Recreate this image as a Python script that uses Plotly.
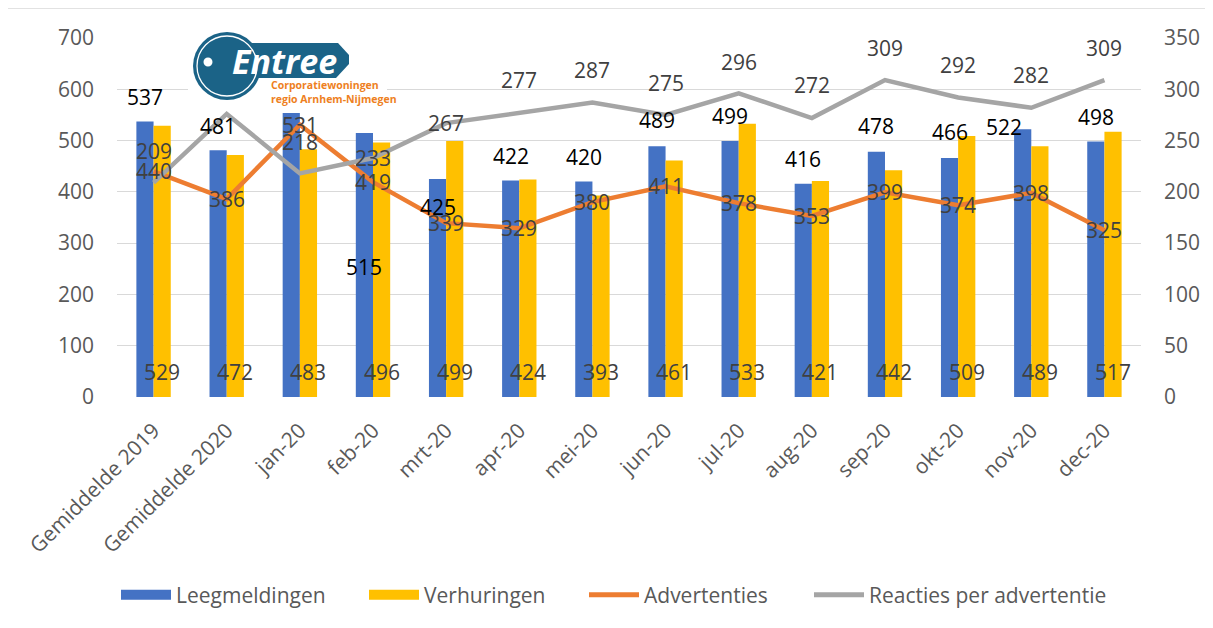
import plotly.graph_objects as go

# ---------------- data ----------------
categories = ["Gemiddelde 2019", "Gemiddelde 2020", "jan-20", "feb-20", "mrt-20", "apr-20",
              "mei-20", "jun-20", "jul-20", "aug-20", "sep-20", "okt-20", "nov-20", "dec-20"]
leegmeldingen = [537, 481, 554, 515, 425, 422, 420, 489, 499, 416, 478, 466, 522, 498]
verhuringen = [529, 472, 483, 496, 499, 424, 393, 461, 533, 421, 442, 509, 489, 517]
advertenties = [440, 386, 531, 419, 339, 329, 380, 411, 378, 353, 399, 374, 398, 325]
reacties = [209, 276, 218, 233, 267, 277, 287, 275, 296, 272, 309, 292, 282, 309]

left_ticks = [0, 100, 200, 300, 400, 500, 600, 700]
right_ticks = [0, 50, 100, 150, 200, 250, 300, 350]

# labels hidden behind the logo in the original
leeg_hidden = {2}
reac_hidden = {1}

# label offsets (pixels) as placed in the original chart
leeg_dy = [25, 24, 25, -134, -28, 25, 25, 26, 25, 25, 26, 26, 2, 25]
leeg_dx = [0, 0, 0, 0, 0, 0, 0, 0, 0, 0, 0, 0, -19, 0]
reac_dy = [32, 32, 31, 0, 0, 33, 33, 32, 31, 33, 32, 32, 33, 32]
verh_dy = 25

# ---------------- layout geometry ----------------
OFF = 8  # page body margin
W, H = 1205, 620
ML, MT = 109, 30
PW, PH = 1024, 359
MR, MB = W - ML - PW, H - MT - PH
BARGAP = 0.53
cat_px = PW / len(categories)
half_bar = cat_px * (1 - BARGAP) / 4.0

FONT = "Open Sans"
BLUE, YELLOW, ORANGE, GRAY = "#4472C4", "#FFC000", "#ED7D31", "#A5A5A5"


def px(x):
    """screen x (reference pixels) -> paper"""
    return (x - OFF - ML) / PW


def py(y):
    """screen y (reference pixels) -> paper"""
    return (MT + PH - (y - OFF)) / PH


fig = go.Figure()
fig.add_trace(go.Bar(x=categories, y=leegmeldingen, name="Leegmeldingen",
                     marker=dict(color=BLUE, line=dict(width=0)), showlegend=False))
fig.add_trace(go.Bar(x=categories, y=verhuringen, name="Verhuringen",
                     marker=dict(color=YELLOW, line=dict(width=0)), showlegend=False))
fig.add_trace(go.Scatter(x=categories, y=advertenties, name="Advertenties", mode="lines",
                         line=dict(color=ORANGE, width=4.5), showlegend=False))
fig.add_trace(go.Scatter(x=categories, y=reacties, name="Reacties per advertentie", mode="lines",
                         line=dict(color=GRAY, width=4.5), yaxis="y2", showlegend=False))

# legend proxies, one legend each so their spacing matches the original
leg_font = dict(family=FONT, size=21, color="#595959")
legend_specs = [("Leegmeldingen", BLUE, 17, "legend", 116),
                ("Verhuringen", YELLOW, 17, "legend2", 364),
                ("Advertenties", ORANGE, 5, "legend3", 584),
                ("Reacties per advertentie", GRAY, 5, "legend4", 809)]
legend_layout = {}
for name, col, w, lg, lx in legend_specs:
    fig.add_trace(go.Scatter(x=[None], y=[None], mode="lines", name=name, legend=lg,
                             line=dict(color=col, width=w), showlegend=True))
    legend_layout[lg] = dict(orientation="h", x=px(lx), xanchor="left", y=py(595),
                             yanchor="middle", font=leg_font, itemwidth=50,
                             bgcolor="rgba(0,0,0,0)")

ann = []
lab_font = dict(family=FONT, size=21, color="#404040")
for i, c in enumerate(categories):
    ann.append(dict(x=c, y=0, xref="x", yref="y", text=str(verhuringen[i]), showarrow=False,
                    xshift=half_bar, yshift=verh_dy, font=lab_font))
    ann.append(dict(x=c, y=advertenties[i], xref="x", yref="y", text=str(advertenties[i]),
                    showarrow=False, font=lab_font))
    if i not in reac_hidden:
        ann.append(dict(x=c, y=reacties[i], xref="x", yref="y2", text=str(reacties[i]),
                        showarrow=False, yshift=reac_dy[i], font=lab_font))
    if i not in leeg_hidden:
        ann.append(dict(x=c, y=leegmeldingen[i], xref="x", yref="y", text=str(leegmeldingen[i]),
                        showarrow=False, xshift=-half_bar + leeg_dx[i], yshift=leeg_dy[i],
                        font=dict(family=FONT, size=21, color="#000000")))

# logo texts
ann.append(dict(x=px(284), y=py(61), xref="paper", yref="paper", text="<b><i>Entree</i></b>",
                showarrow=False, xanchor="center", yanchor="middle",
                font=dict(family=FONT, size=34, color="#FFFFFF")))
ann.append(dict(x=px(269), y=py(92), xref="paper", yref="paper",
                text="<b>Corporatiewoningen<br>regio Arnhem-Nijmegen</b>",
                showarrow=False, xanchor="left", yanchor="middle", align="left",
                font=dict(family=FONT, size=10.5, color="#EE7F22")))

LOGO = "#1B6387"
tab_pts = [(235, 43), (338, 43), (349, 55), (349, 64), (336, 78), (235, 78)]
tab_path = "M " + " L ".join(f"{px(a):.5f},{py(b):.5f}" for a, b in tab_pts) + " Z"
shapes = [
    dict(type="rect", xref="paper", yref="paper", x0=px(7), x1=px(1240), y0=py(660), y1=py(8),
         line=dict(color="#D9D9D9", width=1.5), fillcolor="rgba(0,0,0,0)", layer="below"),
    dict(type="rect", xref="paper", yref="paper", x0=px(188), x1=px(387), y0=py(105), y1=py(29),
         line=dict(width=0), fillcolor="white", layer="above"),
    dict(type="path", xref="paper", yref="paper", path=tab_path, line=dict(width=0),
         fillcolor=LOGO, layer="above"),
    dict(type="circle", xref="paper", yref="paper", x0=px(193), x1=px(261), y0=py(100), y1=py(32),
         line=dict(width=0), fillcolor=LOGO, layer="above"),
    dict(type="circle", xref="paper", yref="paper", x0=px(197), x1=px(257), y0=py(96), y1=py(36),
         line=dict(width=1.3, color="white"), fillcolor="rgba(0,0,0,0)", layer="above"),
    dict(type="circle", xref="paper", yref="paper", x0=px(203.5), x1=px(212.5), y0=py(66.5),
         y1=py(57.5), line=dict(width=0), fillcolor="white", layer="above"),
]

tick_font = dict(family=FONT, size=21, color="#595959")
fig.update_layout(
    width=W, height=H,
    margin=dict(l=ML, r=MR, t=MT, b=MB, autoexpand=False),
    paper_bgcolor="white", plot_bgcolor="white",
    barmode="group", bargap=BARGAP, bargroupgap=0,
    xaxis=dict(type="category", tickangle=-45, tickfont=tick_font, showgrid=False,
               showline=False, ticks="outside", ticklen=12, tickcolor="rgba(0,0,0,0)",
               zeroline=False),
    yaxis=dict(range=[0, 700], tickvals=left_ticks, tickfont=tick_font, showgrid=True,
               gridcolor="#D9D9D9", gridwidth=1.3, zeroline=False, showline=False,
               ticks="", ticklabelstandoff=22),
    yaxis2=dict(range=[0, 350], tickvals=right_ticks, tickfont=tick_font, overlaying="y",
                side="right", showgrid=False, zeroline=False, showline=False, ticks="",
                ticklabelstandoff=22),
    annotations=ann,
    shapes=shapes,
    **legend_layout,
)

fig.write_html("out.html")
